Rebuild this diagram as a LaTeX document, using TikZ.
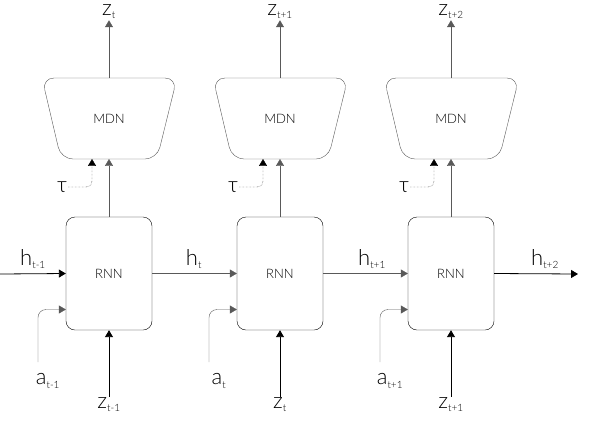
\documentclass[tikz,border=0pt]{standalone}
\usepackage{fontspec}
\setmainfont{Lato Light}
\usetikzlibrary{arrows.meta,positioning}
\tikzset{%
  tipA/.tip={Triangle[angle=60:8pt]},
  rnnbox/.style={draw,rounded corners=9pt,minimum width=86pt,minimum height=113pt,font=\fontsize{13}{15}\selectfont},
  lbl/.style={font=\fontsize{22}{24}\selectfont,inner sep=1pt},
  conn/.style={gray!70!black,-tipA},
  thickconn/.style={black,thick,-tipA}
}
\newcommand{\subtx}[1]{\textsubscript{\fontsize{10}{12}\selectfont #1}}
\begin{document}
\begin{tikzpicture}[x=1pt,y=-1pt]
\useasboundingbox (0,0) rectangle (607,426);
\foreach \i/\x/\zs/\zb/\as in {1/109/t/t-1/t-1,2/280/t+1/t/t,3/451/t+2/t+1/t+1}{
  \node[rnnbox] (rnn\i) at (\x,273.5) {RNN};
  \node[font=\fontsize{13}{15}\selectfont] (mdn\i) at (\x,119) {MDN};
  \draw[gray!70!black,rounded corners=12pt] (\x-67,78) -- (\x+68,78) -- (\x+48,159) -- (\x-48,159) -- cycle;
  \coordinate (mt\i) at (\x,78);
  \coordinate (mb\i) at (\x,159);
  \coordinate (mbl\i) at (\x-17,159);
  \node[lbl] (zo\i) at (\x,12) {z\subtx{\zs}};
  \draw[conn] (mt\i) -- (zo\i);
  \draw[conn] (rnn\i.north) -- (mb\i);
  \node[lbl] (tau\i) at (\x-47,187) {τ};
  \draw[densely dotted,rounded corners=6pt,-tipA] (tau\i.east) -| (mbl\i);
  \node[lbl] (zi\i) at (\x,405) {z\subtx{\zb}};
  \draw[thickconn] (zi\i) -- (rnn\i.south);
  \node[lbl] (a\i) at (\x-61,381) {a\subtx{\as}};
  \coordinate (as\i) at (\x-71,362);
  \draw[conn,rounded corners=8pt] (as\i) |- ([yshift=-36pt]rnn\i.west);
}
\node[lbl] (h0) at (33,259) {h\subtx{t-1}};
\coordinate (hs) at (0,274);
\draw[thickconn] (hs) -- (rnn1.west);
\node[lbl] (h1) at (194,259) {h\subtx{t}};
\draw[conn] (rnn1.east) -- (rnn2.west);
\node[lbl] (h2) at (372,259) {h\subtx{t+1}};
\draw[conn] (rnn2.east) -- (rnn3.west);
\node[lbl] (h3) at (545,259) {h\subtx{t+2}};
\coordinate (he) at (578,274);
\draw[thickconn] (rnn3.east) -- (he);
\end{tikzpicture}
\end{document}
